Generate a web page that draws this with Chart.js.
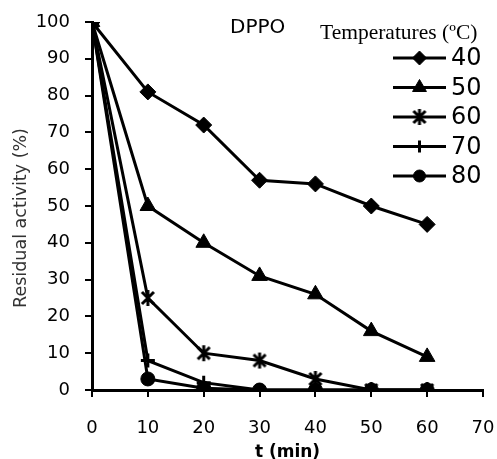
<!DOCTYPE html>
<html>
<head>
<meta charset="utf-8">
<script src="https://cdn.jsdelivr.net/npm/chart.js@4.4.1/dist/chart.umd.min.js"></script>
<style>
  html, body { margin: 0; padding: 0; background: #fff; }
  #wrap { width: 497px; height: 459px; position: relative; }
</style>
</head>
<body>
<div id="wrap"><canvas id="chart" width="497" height="459"></canvas></div>
<script>
// data
const times = [0, 10, 20, 30, 40, 50, 60];
const temps = ['40', '50', '60', '70', '80'];
const act40 = [100, 81, 72, 57, 56, 50, 45];
const act50 = [100, 50, 40, 31, 26, 16, 9];
const act60 = [100, 25, 10, 8, 3, 0, 0];
const act70 = [100, 8, 2, 0, 0, 0, 0];
const act80 = [100, 3, 0.5, 0, 0, 0, 0];
const xTicks = [0, 10, 20, 30, 40, 50, 60, 70];
const yTicks = [0, 10, 20, 30, 40, 50, 60, 70, 80, 90, 100];

const SANS = '"DejaVu Sans", sans-serif';

// excel-like star marker: an X with a vertical bar
function starMarker() {
    const c = document.createElement('canvas');
    c.width = 18; c.height = 18;
    const g = c.getContext('2d');
    g.strokeStyle = '#000';
    g.lineWidth = 3;
    g.beginPath();
    g.moveTo(3, 3); g.lineTo(15, 15);
    g.moveTo(15, 3); g.lineTo(3, 15);
    g.moveTo(9, 1); g.lineTo(9, 17);
    g.stroke();
    return c;
}

const markers = [
    { pointStyle: 'rectRot', radius: 8 },
    { pointStyle: 'triangle', radius: 9 },
    { pointStyle: starMarker(), radius: 8 },
    { pointStyle: 'cross', radius: 7 },
    { pointStyle: 'circle', radius: 7 }
];
const series = [act40, act50, act60, act70, act80];

const datasets = series.map((vals, i) => ({
    label: temps[i],
    data: times.map((t, j) => ({ x: t, y: vals[j] })),
    borderColor: '#000',
    backgroundColor: '#000',
    borderWidth: 3,
    pointStyle: markers[i].pointStyle,
    pointRadius: markers[i].radius,
    pointBorderWidth: markers[i].pointStyle === 'cross' ? 3 : 1,
    pointBackgroundColor: '#000',
    pointBorderColor: '#000',
    tension: 0
}));

// titles and the legend box in the upper right
const decorPlugin = {
    id: 'decor',
    afterDraw(chart) {
        const ctx = chart.ctx;
        ctx.save();
        ctx.fillStyle = '#000';
        ctx.textBaseline = 'middle';

        ctx.font = '20px ' + SANS;
        ctx.textAlign = 'left';
        ctx.fillText('DPPO', 230, 28);

        ctx.font = '21.5px "Liberation Serif", serif';
        ctx.fillText('Temperatures (ºC)', 320, 33);

        // y axis title
        ctx.save();
        ctx.translate(21, 218);
        ctx.rotate(-Math.PI / 2);
        ctx.textAlign = 'center';
        ctx.fillStyle = '#333';
        ctx.font = '17.5px ' + SANS;
        ctx.fillText('Residual activity (%)', 0, 0);
        ctx.restore();

        // legend
        ctx.font = '24px ' + SANS;
        temps.forEach((lab, i) => {
            const y = 58 + i * 29.5;
            ctx.strokeStyle = '#000';
            ctx.lineWidth = 3;
            ctx.beginPath();
            ctx.moveTo(393, y);
            ctx.lineTo(446, y);
            ctx.stroke();
            ctx.fillStyle = '#000';
            ctx.lineWidth = markers[i].pointStyle === 'cross' ? 3 : 1;
            Chart.helpers.drawPoint(ctx, {
                pointStyle: markers[i].pointStyle,
                radius: markers[i].radius - 1,
                rotation: 0,
                borderWidth: ctx.lineWidth
            }, 419.5, y);
            ctx.textAlign = 'left';
            ctx.fillText(lab, 451, y + 1);
        });
        ctx.restore();
    }
};

new Chart(document.getElementById('chart'), {
    type: 'line',
    data: { datasets: datasets },
    options: {
        responsive: false,
        animation: false,
        layout: { padding: { top: 22, right: 14, left: 0, bottom: 0 } },
        plugins: { legend: { display: false }, tooltip: { enabled: false } },
        scales: {
            x: {
                type: 'linear',
                min: 0, max: 70,
                afterFit: s => { s.height = 69; s.paddingLeft = 0; s.paddingRight = 0; },
                afterBuildTicks: s => { s.ticks = xTicks.map(v => ({ value: v })); },
                ticks: { color: '#000', font: { family: SANS, size: 18 }, padding: 21, maxRotation: 0 },
                grid: { drawOnChartArea: false, drawTicks: true, tickLength: 7, color: '#000', lineWidth: 2 },
                border: { color: '#000', width: 3 },
                title: {
                    display: true, text: 't (min)', color: '#000',
                    font: { family: SANS, size: 17, weight: 'bold' },
                    padding: { top: 0, bottom: -4 }
                }
            },
            y: {
                min: 0, max: 100,
                afterFit: s => { s.width = 92; s.paddingTop = 0; s.paddingBottom = 0; },
                afterBuildTicks: s => { s.ticks = yTicks.map(v => ({ value: v })); },
                ticks: { color: '#000', font: { family: SANS, size: 18 }, padding: 15 },
                grid: { drawOnChartArea: false, drawTicks: true, tickLength: 7, color: '#000', lineWidth: 2 },
                border: { color: '#000', width: 3 }
            }
        }
    },
    plugins: [decorPlugin]
});
</script>
</body>
</html>
